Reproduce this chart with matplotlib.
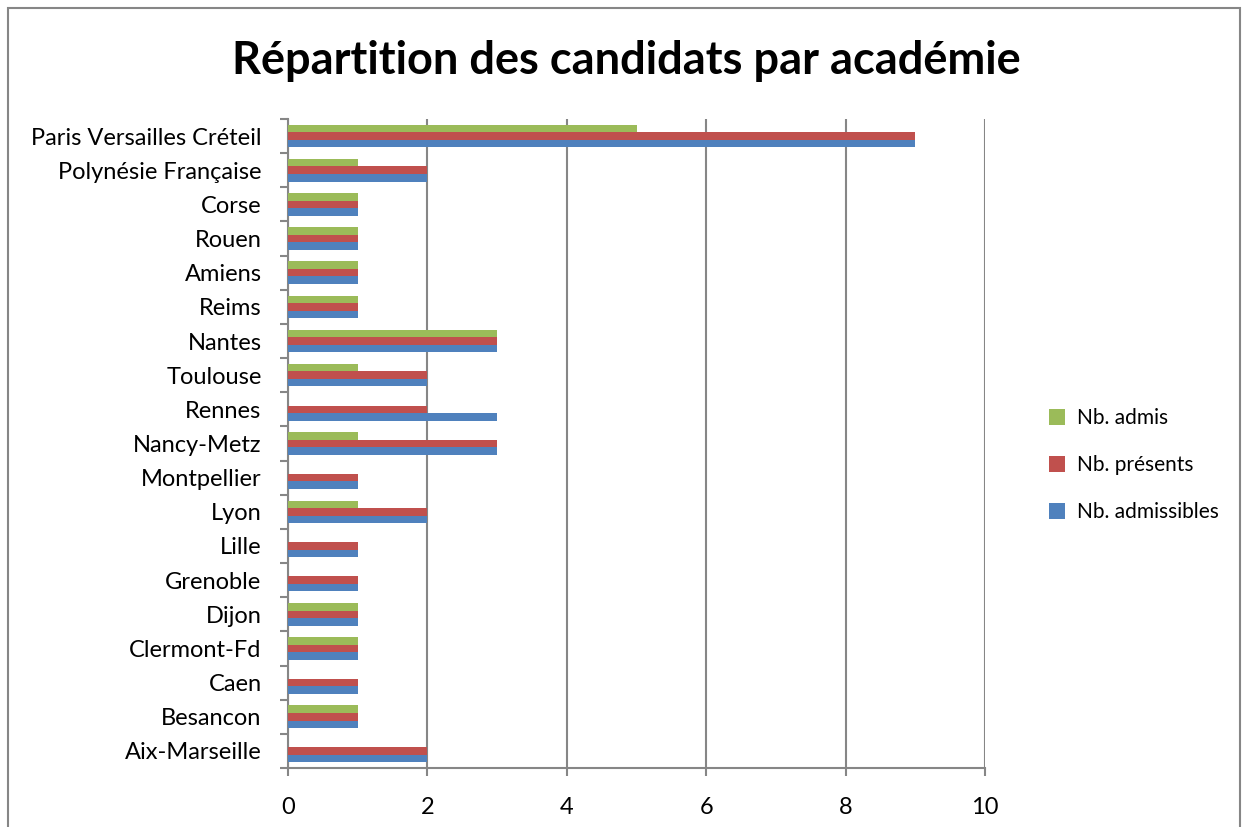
import numpy as np
import matplotlib.pyplot as plt
from matplotlib.patches import Rectangle

plt.rcParams['font.family'] = ['Lato', 'DejaVu Sans']

academies = ["Aix-Marseille", "Besancon", "Caen", "Clermont-Fd", "Dijon", "Grenoble",
             "Lille", "Lyon", "Montpellier", "Nancy-Metz", "Rennes", "Toulouse",
             "Nantes", "Reims", "Amiens", "Rouen", "Corse", "Polynésie Française",
             "Paris Versailles Créteil"]
admissibles = [2, 1, 1, 1, 1, 1, 1, 2, 1, 3, 3, 2, 3, 1, 1, 1, 1, 2, 9]
presents = [2, 1, 1, 1, 1, 1, 1, 2, 1, 3, 2, 2, 3, 1, 1, 1, 1, 2, 9]
admis = [0, 1, 0, 1, 1, 0, 0, 1, 0, 1, 0, 1, 3, 1, 1, 1, 1, 1, 5]

blue = "#4f81bd"
red = "#c0504d"
green = "#9bbb59"

fig = plt.figure(figsize=(12.43, 8.27), dpi=100)
ax = fig.add_axes([288 / 1243, 1 - 768 / 827, (985 - 288) / 1243, (768 - 119) / 827])

y = np.arange(len(academies))
h = 0.22
ax.barh(y - h, admissibles, height=h, color=blue, label="Nb. admissibles", zorder=3)
ax.barh(y, presents, height=h, color=red, label="Nb. présents", zorder=3)
ax.barh(y + h, admis, height=h, color=green, label="Nb. admis", zorder=3)

ax.set_xlim(0, 10)
ax.set_ylim(-0.5, len(academies) - 0.5)
ax.set_xticks(np.arange(0, 11, 2))
ax.tick_params(axis='x', length=6, width=1.5, color="#868686", labelsize=17, pad=15)
ax.set_yticks(np.arange(-0.5, len(academies), 1))
ax.set_yticklabels([])
ax.set_yticks(y, minor=True)
ax.set_yticklabels(academies, minor=True, fontsize=17)
ax.tick_params(axis='y', which='major', length=6, width=1.5, color="#868686")
ax.tick_params(axis='y', which='minor', length=0, pad=19)
ax.grid(axis='x', color="#868686", linewidth=1.5, zorder=0)
for s in ["top", "right"]:
    ax.spines[s].set_visible(False)
for s in ["left", "bottom"]:
    ax.spines[s].set_color("#868686")
    ax.spines[s].set_linewidth(1.5)

handles, labels = ax.get_legend_handles_labels()
fig.legend(handles[::-1], labels[::-1], loc="center left", bbox_to_anchor=(1030 / 1243, 1 - 465 / 827),
           frameon=False, fontsize=15, handlelength=0.8, handleheight=0.8, labelspacing=1.3,
           handletextpad=0.55)

fig.text(626 / 1243, 1 - 61 / 827, "Répartition des candidats par académie",
         ha="center", va="center", fontsize=32.5, fontweight="bold")

fig.patches.append(Rectangle((8 / 1243, -0.01), 1232 / 1243, 1 - 8 / 827 + 0.01,
                             transform=fig.transFigure, fill=False, edgecolor="#868686", linewidth=1.5))

fig.savefig("out.png", dpi=100)
